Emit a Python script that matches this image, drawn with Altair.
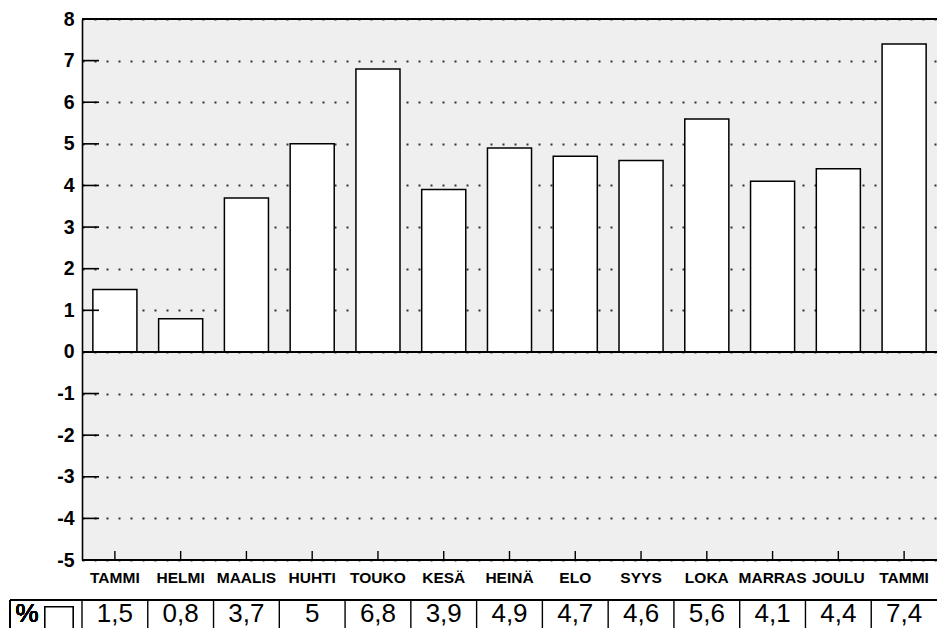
import json
import altair as alt
import pandas as pd

months = ["TAMMI", "HELMI", "MAALIS", "HUHTI", "TOUKO", "KESÄ", "HEINÄ",
          "ELO", "SYYS", "LOKA", "MARRAS", "JOULU", "TAMMI"]
values = [1.5, 0.8, 3.7, 5, 6.8, 3.9, 4.9, 4.7, 4.6, 5.6, 4.1, 4.4, 7.4]
value_labels = ["1,5", "0,8", "3,7", "5", "6,8", "3,9", "4,9", "4,7", "4,6",
                "5,6", "4,1", "4,4", "7,4"]
y_ticks = list(range(-5, 9))

W, H = 855, 541
N = len(months)
FONT = "Liberation Sans"

df = pd.DataFrame({"i": list(range(N)), "month": months,
                   "value": values, "label": value_labels})
df["pos"] = df["i"] + 0.5
ticks_df = pd.DataFrame({"t": y_ticks})

xscale = alt.Scale(domain=list(range(N)), paddingInner=0.33, paddingOuter=0.165)
tscale = alt.Scale(domain=[0, N], nice=False, zero=False)
yscale = alt.Scale(domain=[-5, 8], nice=False, zero=False)
label_expr = json.dumps(months) + "[datum.value]"

xenc = alt.X("i:O", scale=xscale,
             axis=alt.Axis(title=None, labelExpr=label_expr, labelAngle=0, ticks=False,
                           domain=False, labelPadding=10, labelFontSize=15.5,
                           labelFontWeight="bold", labelColor="black", labelFont=FONT))

base = alt.Chart(df)

bars = base.mark_bar(fill="white", stroke="black", strokeWidth=1.5).encode(
    x=xenc,
    y=alt.Y("value:Q", scale=yscale,
            axis=alt.Axis(title=None, values=y_ticks, ticks=False, domainColor="black",
                          domainWidth=1.6, labelFontSize=19.5, labelFontWeight="bold",
                          labelColor="black", labelFont=FONT, labelPadding=8,
                          labelExpr="'' + datum.value",
                          grid=True, gridDash=[2, 10], gridColor="#333", gridWidth=1.8)),
    y2=alt.datum(0),
)

ytick_rules = alt.Chart(ticks_df).mark_rule(color="black", strokeWidth=1.6).encode(
    y=alt.Y("t:Q", scale=yscale), x=alt.value(0), x2=alt.value(17))

zero_line = alt.Chart(ticks_df).mark_rule(color="black", strokeWidth=1.6).encode(
    y=alt.datum(0, scale=yscale), x=alt.value(0), x2=alt.value(W))
top_line = alt.Chart(ticks_df).mark_rule(color="black", strokeWidth=1.6).encode(
    y=alt.datum(8, scale=yscale), x=alt.value(0), x2=alt.value(W))
bottom_line = alt.Chart(ticks_df).mark_rule(color="black", strokeWidth=1.6).encode(
    y=alt.datum(-5, scale=yscale), x=alt.value(0), x2=alt.value(W))

xtick_rules = base.mark_rule(color="black", strokeWidth=1.4).encode(
    x=alt.X("i:O", scale=xscale), y=alt.value(H), y2=alt.value(H - 9))

main = alt.layer(bars, ytick_rules, zero_line, top_line, bottom_line, xtick_rules)

# table below the chart
TY = H + 40
table_text = base.mark_text(fontSize=26, font=FONT, fontWeight="normal", color="black",
                            baseline="alphabetic").encode(
    x=alt.X("pos:Q", scale=tscale, axis=None), y=alt.value(TY + 22), text="label:N")
table_vlines = base.mark_rule(color="black", strokeWidth=1.4).encode(
    x=alt.X("i:Q", scale=tscale, axis=None), y=alt.value(TY), y2=alt.value(H + 80))
table_hline = alt.Chart(ticks_df).mark_rule(color="black", strokeWidth=1.4).encode(
    x=alt.value(-72), x2=alt.value(W), y=alt.value(TY))
table_left = alt.Chart(ticks_df).mark_rule(color="black", strokeWidth=1.4).encode(
    x=alt.value(-72), y=alt.value(TY), y2=alt.value(H + 80))
pct_text = alt.Chart(ticks_df).mark_text(fontSize=26, font=FONT, fontWeight="normal",
                                         color="black", baseline="alphabetic").encode(
    x=alt.value(-55), y=alt.value(TY + 22), text=alt.value("%"))
pct_box = alt.Chart(ticks_df).mark_rect(fill="white", stroke="black", strokeWidth=1.2).encode(
    x=alt.value(-37), x2=alt.value(-9), y=alt.value(TY + 7), y2=alt.value(H + 90))

table = alt.layer(table_text, table_vlines, table_hline, table_left, pct_text, pct_box)

chart = alt.layer(main, table).resolve_scale(x="independent").properties(
    width=W, height=H,
    autosize=alt.AutoSizeParams(type="none"),
    padding={"left": 74, "top": 11, "right": 0, "bottom": 68},
    background="white",
).configure_view(fill="#efefef", strokeWidth=0)

chart.save("out.html", embed_options={"renderer": "svg", "actions": False})
